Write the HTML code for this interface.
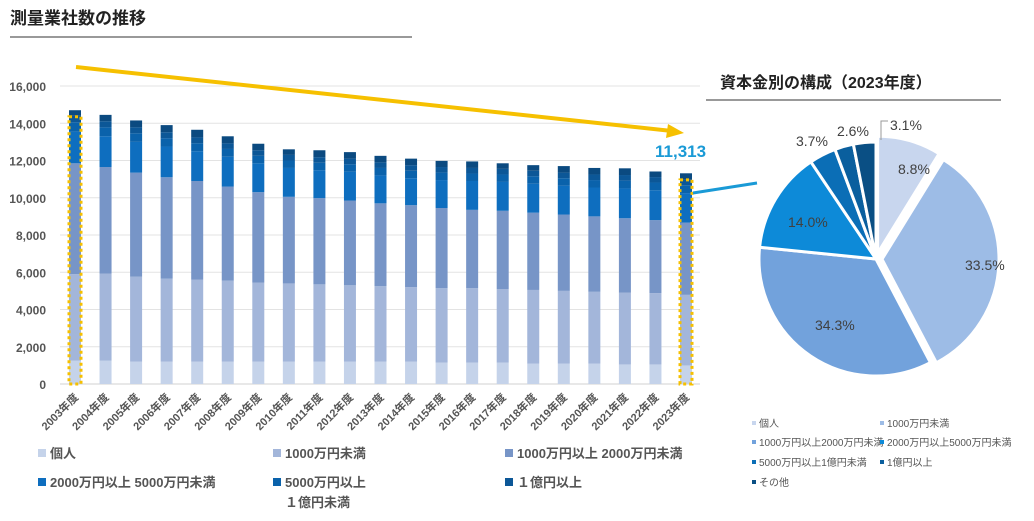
<!DOCTYPE html>
<html><head><meta charset="utf-8">
<style>
body{margin:0;background:#fff;width:1034px;height:516px;overflow:hidden;font-family:"Liberation Sans","Noto Sans CJK JP",sans-serif;}
svg text{font-family:"Liberation Sans","Noto Sans CJK JP",sans-serif;}
</style></head><body>
<svg id="c" width="1034" height="516" xmlns="http://www.w3.org/2000/svg">
<text x="10" y="24" font-size="17" font-weight="bold" fill="#222">測量業社数の推移</text>
<line x1="10" y1="37" x2="412" y2="37" stroke="#333" stroke-width="1"/>
<text x="720" y="88" font-size="16" font-weight="bold" fill="#222">資本金別の構成（2023年度）</text>
<line x1="706" y1="100" x2="1001" y2="100" stroke="#333" stroke-width="1"/>
<g id="grid"></g><g id="bars"></g><g id="xl"></g><g id="pie"></g>
</svg>
<script>
const years=["2003年度","2004年度","2005年度","2006年度","2007年度","2008年度","2009年度","2010年度","2011年度","2012年度","2013年度","2014年度","2015年度","2016年度","2017年度","2018年度","2019年度","2020年度","2021年度","2022年度","2023年度"];
const indiv=[1250,1250,1200,1200,1200,1200,1200,1200,1200,1200,1200,1200,1150,1150,1150,1100,1100,1100,1050,1050,996];
const under1000=[4650,4670,4560,4460,4410,4350,4250,4200,4150,4100,4050,4000,4000,4000,3950,3950,3900,3850,3850,3830,3790];
const from1000to2000=[5950,5730,5590,5440,5290,5050,4850,4650,4630,4550,4450,4400,4300,4200,4200,4150,4100,4050,4000,3920,3880];
const from2000to5000=[1700,1650,1650,1650,1600,1600,1550,1550,1500,1550,1500,1450,1500,1550,1550,1550,1550,1550,1600,1600,1584];
const from5000to1oku=[500,480,460,450,430,420,400,400,400,400,400,400,400,400,400,400,400,400,420,420,419];
const over1oku=[350,330,320,320,310,300,300,300,300,300,300,300,300,300,300,300,300,300,300,290,294];
const others=[300,340,370,380,410,380,350,300,370,350,350,350,330,350,300,300,350,350,360,300,350];
const yTicks=[0,2000,4000,6000,8000,10000,12000,14000,16000];
const pieLabels=["個人","1000万円未満","1000万円以上2000万円未満","2000万円以上5000万円未満","5000万円以上1億円未満","1億円以上","その他"];
const pieValues=[8.8,33.5,34.3,14.0,3.7,2.6,3.1];

const NS="http://www.w3.org/2000/svg";
function mk(t,a,p,txt){const e=document.createElementNS(NS,t);for(const k in a)e.setAttribute(k,a[k]);if(txt!==undefined)e.textContent=txt;p.appendChild(e);return e;}
const y=v=>384-v*298/16000;
const x=i=>75+i*30.55;
const grid=document.getElementById('grid'),bars=document.getElementById('bars'),xl=document.getElementById('xl'),svg=document.getElementById('c');
yTicks.forEach(t=>{
 const l=mk('line',{x1:60,x2:700,y1:y(t),y2:y(t),stroke:t?'#e3e3e3':'#d0d0d0','stroke-width':1},grid);
 
 
 const tx=mk('text',{x:46,y:y(t)+5,'font-size':12,'font-weight':'bold',fill:'#555','text-anchor':'end'},grid,t.toLocaleString('en-US'));
 
 
});
const series=[indiv,under1000,from1000to2000,from2000to5000,from5000to1oku,over1oku,others];
const cols=["#c5d3ea","#a3b6da","#7795c7","#0e6ebf","#0a62ab","#0c5797","#0b4a80"];
const sn=["indiv","under-1000","1000-2000","2000-5000","5000-1oku","over-1oku","others"];
years.forEach((yr,i)=>{
 let cum=0;
 series.forEach((s,k)=>{
  const r=mk('rect',{x:x(i)-6,width:12,y:y(cum+s[i]),height:y(cum)-y(cum+s[i]),fill:cols[k]},bars);
  
  
  cum+=s[i];
 });
 const t=mk('text',{x:x(i)+4,y:398,'font-size':11,'font-weight':'bold',fill:'#555','text-anchor':'end',transform:`rotate(-45 ${x(i)+4} 398)`},xl,yr);
 
 
});
function total(i){return series.reduce((a,s)=>a+s[i],0);}
[0,20].forEach(i=>{
 const r=mk('rect',{x:x(i)-6,y:y(total(i)-350),width:12,height:384-y(total(i)-350),fill:'none',stroke:'#f6c000','stroke-width':3,'stroke-dasharray':'3 3'},bars);
 
 
});
const ar=mk('line',{x1:76,y1:67,x2:672,y2:131,stroke:'#f6c000','stroke-width':4},svg);


const ah=mk('polygon',{points:'684,133 668,124 666,138',fill:'#f6c000'},svg);


const lb=mk('text',{x:655,y:157,'font-size':17,'font-weight':'bold',fill:'#1a9ad6'},svg,total(20).toLocaleString('en-US'));


const cl=mk('line',{x1:693,y1:193,x2:757,y2:183,stroke:'#1a9ad6','stroke-width':3},svg);


const leg=[[38,458,"個人"],[273,458,"1000万円未満"],[505,458,"1000万円以上 2000万円未満"],[38,487,"2000万円以上 5000万円未満"],[273,487,"5000万円以上"],[505,487,"１億円以上"]];
leg.forEach((L,k)=>{
 const m=mk('rect',{x:L[0],y:L[1]-9,width:8,height:8,fill:cols[k]},svg);
 
 
 const t=mk('text',{x:L[0]+12,y:L[1],'font-size':13,'font-weight':'bold',fill:'#555'},svg,L[2]);
 
 
});
const t2=mk('text',{x:285,y:507,'font-size':13,'font-weight':'bold',fill:'#555'},svg,"１億円未満");


const pie=document.getElementById('pie');
const pcols=["#c8d6ee","#9dbce6","#72a2dc","#0d8ad8","#0b6eb6","#0a5f9e","#0a4f84"];
const cx=876,cy=259,R=117;
const sum=pieValues.reduce((a,b)=>a+b,0);
let a0=0;
const explode=[6,6,0,0,0,0,0];
const lpos=[[898,174],[965,270],[815,330],[788,227],[796,146],[837,136],[890,130]];
pieValues.forEach((v,k)=>{
 const a1=a0+v/sum*2*Math.PI,am=(a0+a1)/2;
 const ox=cx+explode[k]*Math.sin(am),oy=cy-explode[k]*Math.cos(am);
 const p=(a)=>[ox+R*Math.sin(a),oy-R*Math.cos(a)];
 const [x0,y0]=p(a0),[x1,y1]=p(a1);
 const s=mk('path',{d:`M${ox},${oy}L${x0},${y0}A${R},${R} 0 ${a1-a0>Math.PI?1:0} 1 ${x1},${y1}Z`,fill:pcols[k],stroke:'#fff','stroke-width':3},pie);
 
 
 const t=mk('text',{x:lpos[k][0],y:lpos[k][1],'font-size':14,fill:'#404040'},pie,v.toFixed(1)+'%');
 
 
 a0=a1;
});
const ld=mk('polyline',{points:'881,140 881,121 888,121',fill:'none',stroke:'#999','stroke-width':1},pie);


const pl=[[752,427],[880,427],[752,446],[880,446],[752,466],[880,466],[752,486]];
pieLabels.forEach((L,k)=>{
 const m=mk('rect',{x:pl[k][0],y:pl[k][1]-6,width:4,height:4,fill:pcols[k]},svg);
 
 
 const t=mk('text',{x:pl[k][0]+7,y:pl[k][1],'font-size':10,fill:'#555'},svg,L);
 
 
});
</script>
</body></html>
